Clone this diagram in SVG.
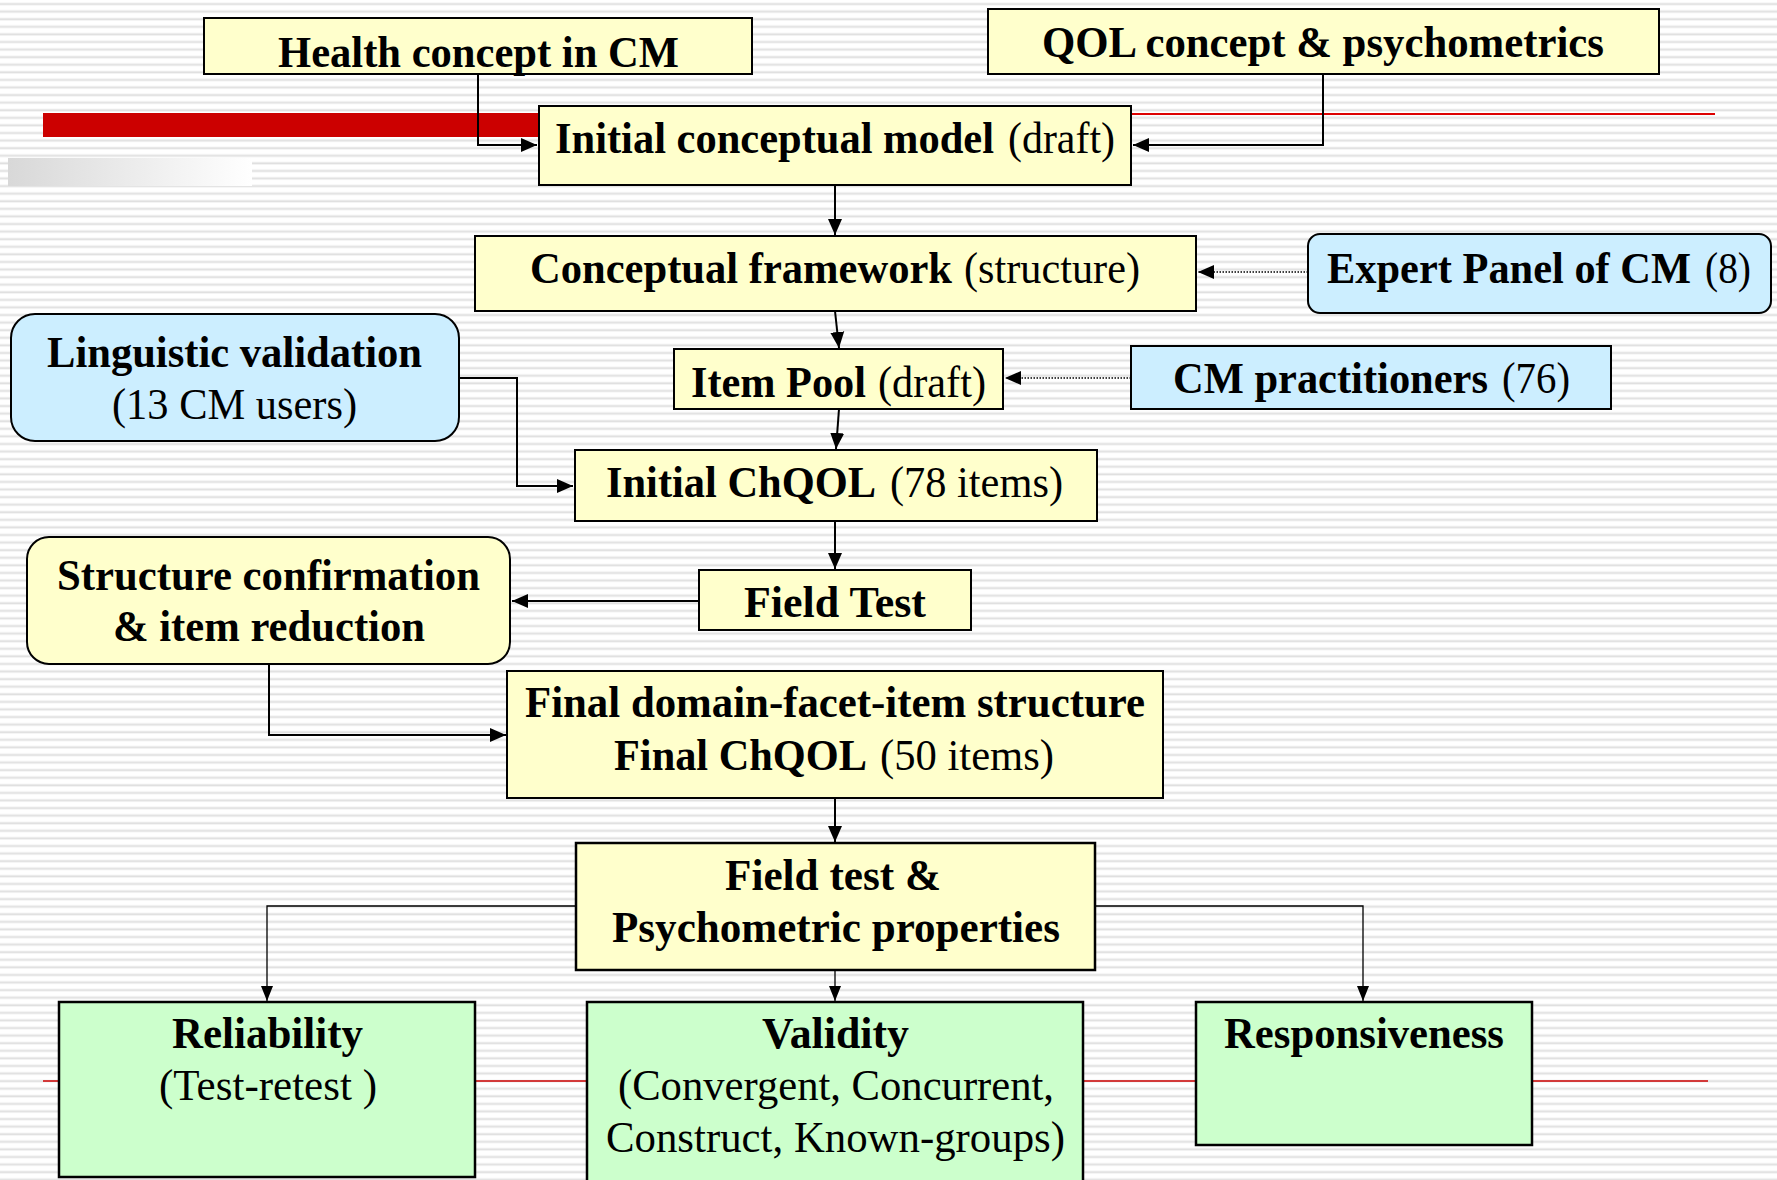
<svg xmlns="http://www.w3.org/2000/svg" width="1777" height="1180" viewBox="0 0 1777 1180">
<defs>
<pattern id="stripes" patternUnits="userSpaceOnUse" x="0" y="0" width="20" height="7.585">
<rect x="0" y="0" width="20" height="7.585" fill="#ffffff"/>
<rect x="0" y="2.6" width="20" height="0.8" fill="#ececec"/>
<rect x="0" y="3.3" width="20" height="1.8" fill="#e0e0e0"/>
</pattern>
<linearGradient id="grayfade" x1="0" y1="0" x2="1" y2="0">
<stop offset="0" stop-color="#d8d8d8"/>
<stop offset="1" stop-color="#ffffff"/>
</linearGradient>
<marker id="arr" markerUnits="userSpaceOnUse" markerWidth="18" markerHeight="16" refX="16" refY="8" orient="auto">
<path d="M0,1 L16,8 L0,15 z" fill="#000"/>
</marker>
<marker id="arrs" markerUnits="userSpaceOnUse" markerWidth="16" markerHeight="14" refX="15" refY="7" orient="auto">
<path d="M0,1 L15,7 L0,13 z" fill="#000"/>
</marker>
</defs>
<style>
.y{fill:#ffffcc;stroke:#000;stroke-width:2}
.b{fill:#cceeff;stroke:#000;stroke-width:2}
.g{fill:#ccffcc;stroke:#000;stroke-width:2.5}
.y2{fill:#ffffcc;stroke:#000;stroke-width:2.5}
text{font-family:"Liberation Serif","Times New Roman",serif;font-size:44px;fill:#000}
.bd{font-weight:bold}
.c{fill:none;stroke:#000;stroke-width:2}
.ct{fill:none;stroke:#000;stroke-width:1.3}
.d{fill:none;stroke:#000;stroke-width:1.5;stroke-dasharray:1.5 1.5}
</style>
<rect x="0" y="0" width="1777" height="1180" fill="url(#stripes)"/>
<g id="decor">
<rect x="8" y="158" width="244" height="28" fill="url(#grayfade)"/>
<rect x="43" y="113" width="500" height="24" fill="#cc0000"/>
<line x1="540" y1="114" x2="1715" y2="114" stroke="#dd0000" stroke-width="2"/>
<line x1="43" y1="1081" x2="1708" y2="1081" stroke="#cc0000" stroke-width="1.5"/>
</g>
<g id="connectors">
<polyline class="c" points="478,74 478,145 537,145" marker-end="url(#arr)"/>
<polyline class="c" points="1323,74 1323,145 1133,145" marker-end="url(#arr)"/>
<line class="c" x1="835" y1="185" x2="835" y2="235" marker-end="url(#arr)"/>
<line class="d" x1="1308" y1="272" x2="1198" y2="272" marker-end="url(#arr)"/>
<line class="c" x1="835" y1="311" x2="839" y2="348" marker-end="url(#arr)"/>
<line class="d" x1="1131" y1="378" x2="1005" y2="378" marker-end="url(#arr)"/>
<line class="c" x1="839" y1="409" x2="836" y2="449" marker-end="url(#arr)"/>
<polyline class="c" points="459,378 517,378 517,486 573,486" marker-end="url(#arr)"/>
<line class="c" x1="835" y1="521" x2="835" y2="569" marker-end="url(#arr)"/>
<line class="c" x1="699" y1="601" x2="512" y2="601" marker-end="url(#arr)"/>
<polyline class="c" points="269,664 269,735 506,735" marker-end="url(#arr)"/>
<line class="c" x1="835" y1="798" x2="835" y2="842" marker-end="url(#arr)"/>
<polyline class="ct" points="576,906 267,906 267,1001" marker-end="url(#arrs)"/>
<polyline class="ct" points="1095,906 1363,906 1363,1001" marker-end="url(#arrs)"/>
<line class="ct" x1="835" y1="970" x2="835" y2="1001" marker-end="url(#arrs)"/>
</g>
<g id="health">
<rect class="y" x="204" y="18" width="548" height="56"/>
<text class="bd" x="278" y="67" textLength="401" lengthAdjust="spacingAndGlyphs">Health concept in CM</text>
</g>
<g id="qol">
<rect class="y" x="988" y="9" width="671" height="65"/>
<text class="bd" x="1042" y="57" textLength="562" lengthAdjust="spacingAndGlyphs">QOL concept &amp; psychometrics</text>
</g>
<g id="initial-model">
<rect class="y" x="539" y="106" width="592" height="79"/>
<text class="bd" x="555" y="153" textLength="439" lengthAdjust="spacingAndGlyphs">Initial conceptual model</text>
<text x="1008" y="153" textLength="107" lengthAdjust="spacingAndGlyphs">(draft)</text>
</g>
<g id="framework">
<rect class="y" x="475" y="236" width="721" height="75"/>
<text class="bd" x="530" y="283" textLength="422" lengthAdjust="spacingAndGlyphs">Conceptual framework</text>
<text x="964" y="283" textLength="176" lengthAdjust="spacingAndGlyphs">(structure)</text>
</g>
<g id="expert">
<rect class="b" x="1308" y="234" width="463" height="79" rx="12"/>
<text class="bd" x="1327" y="283" textLength="364" lengthAdjust="spacingAndGlyphs">Expert Panel of CM</text>
<text x="1705" y="283" textLength="46" lengthAdjust="spacingAndGlyphs">(8)</text>
</g>
<g id="itempool">
<rect class="y" x="674" y="349" width="329" height="60"/>
<text class="bd" x="691" y="397" textLength="175" lengthAdjust="spacingAndGlyphs">Item Pool</text>
<text x="878" y="397" textLength="108" lengthAdjust="spacingAndGlyphs">(draft)</text>
</g>
<g id="practitioners">
<rect class="b" x="1131" y="346" width="480" height="63"/>
<text class="bd" x="1173" y="393" textLength="315" lengthAdjust="spacingAndGlyphs">CM practitioners</text>
<text x="1502" y="393" textLength="68" lengthAdjust="spacingAndGlyphs">(76)</text>
</g>
<g id="linguistic">
<rect class="b" x="11" y="314" width="448" height="127" rx="24"/>
<text class="bd" x="47" y="367" textLength="375" lengthAdjust="spacingAndGlyphs">Linguistic validation</text>
<text x="112" y="419" textLength="245" lengthAdjust="spacingAndGlyphs">(13 CM users)</text>
</g>
<g id="initial-chqol">
<rect class="y" x="575" y="450" width="522" height="71"/>
<text class="bd" x="606" y="497" textLength="270" lengthAdjust="spacingAndGlyphs">Initial ChQOL</text>
<text x="890" y="497" textLength="173" lengthAdjust="spacingAndGlyphs">(78 items)</text>
</g>
<g id="fieldtest">
<rect class="y" x="699" y="570" width="272" height="60"/>
<text class="bd" x="744" y="617" textLength="182" lengthAdjust="spacingAndGlyphs">Field Test</text>
</g>
<g id="structure">
<rect class="y" x="27" y="537" width="483" height="127" rx="22"/>
<text class="bd" x="57" y="590" textLength="423" lengthAdjust="spacingAndGlyphs">Structure confirmation</text>
<text class="bd" x="113" y="641" textLength="312" lengthAdjust="spacingAndGlyphs">&amp; item reduction</text>
</g>
<g id="final">
<rect class="y" x="507" y="671" width="656" height="127"/>
<text class="bd" x="525" y="717" textLength="620" lengthAdjust="spacingAndGlyphs">Final domain-facet-item structure</text>
<text class="bd" x="614" y="770" textLength="253" lengthAdjust="spacingAndGlyphs">Final ChQOL</text>
<text x="880" y="770" textLength="174" lengthAdjust="spacingAndGlyphs">(50 items)</text>
</g>
<g id="psychometric">
<rect class="y2" x="576" y="843" width="519" height="127"/>
<text class="bd" x="725" y="890" textLength="216" lengthAdjust="spacingAndGlyphs">Field test &amp;</text>
<text class="bd" x="612" y="942" textLength="448" lengthAdjust="spacingAndGlyphs">Psychometric properties</text>
</g>
<g id="reliability">
<rect class="g" x="59" y="1002" width="416" height="175"/>
<text class="bd" x="172" y="1048" textLength="191" lengthAdjust="spacingAndGlyphs">Reliability</text>
<text x="159" y="1100" textLength="218" lengthAdjust="spacingAndGlyphs">(Test-retest )</text>
</g>
<g id="validity">
<rect class="g" x="587" y="1002" width="496" height="200"/>
<text class="bd" x="762" y="1048" textLength="147" lengthAdjust="spacingAndGlyphs">Validity</text>
<text x="618" y="1100" textLength="436" lengthAdjust="spacingAndGlyphs">(Convergent, Concurrent,</text>
<text x="606" y="1152" textLength="459" lengthAdjust="spacingAndGlyphs">Construct, Known-groups)</text>
</g>
<g id="responsiveness">
<rect class="g" x="1196" y="1002" width="336" height="143"/>
<text class="bd" x="1224" y="1048" textLength="280" lengthAdjust="spacingAndGlyphs">Responsiveness</text>
</g>
</svg>
